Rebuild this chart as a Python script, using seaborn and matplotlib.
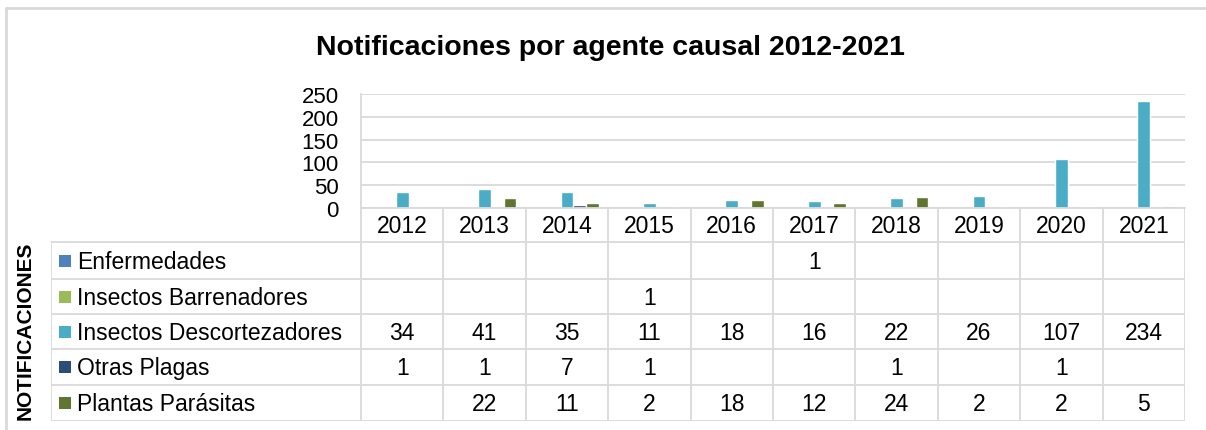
import pandas as pd
import numpy as np
import matplotlib
matplotlib.use("Agg")
import matplotlib.pyplot as plt
from matplotlib.lines import Line2D
from matplotlib.patches import Rectangle
import seaborn as sns

years = ["2012", "2013", "2014", "2015", "2016", "2017", "2018", "2019", "2020", "2021"]
agents = ["Enfermedades", "Insectos Barrenadores", "Insectos Descortezadores",
          "Otras Plagas", "Plantas Parásitas"]
enfermedades = [None, None, None, None, None, 1, None, None, None, None]
barrenadores = [None, None, None, 1, None, None, None, None, None, None]
descortezadores = [34, 41, 35, 11, 18, 16, 22, 26, 107, 234]
otras_plagas = [1, 1, 7, 1, None, None, 1, None, 1, None]
plantas_parasitas = [None, 22, 11, 2, 18, 12, 24, 2, 2, 5]
colors = ["#4F81BD", "#9BBB59", "#4BACC6", "#2C4D75", "#5F7530"]

series = [enfermedades, barrenadores, descortezadores, otras_plagas, plantas_parasitas]
rows = []
for agent, vals in zip(agents, series):
    for y, v in zip(years, vals):
        rows.append({"year": y, "agent": agent, "value": np.nan if v is None else v})
df = pd.DataFrame(rows)

sns.set_theme(style="white")
plt.rcParams["font.family"] = ["Liberation Sans", "DejaVu Sans"]
plt.rcParams["text.color"] = "black"

W, H = 1206, 431
fig = plt.figure(figsize=(W / 100, H / 100), dpi=100)
grid_c = "#D9D9D9"
fs = 16.5

# plot area in pixels
left, right, top, base = 361, 1185, 95, 209
ax = fig.add_axes([left / W, 1 - base / H, (right - left) / W, (base - top) / H])
sns.barplot(data=df, x="year", y="value", hue="agent", hue_order=agents, order=years,
            palette=colors, width=0.77, saturation=1, ax=ax, legend=False, errorbar=None)
ax.set_xlim(-0.5, 9.5)
ax.set_ylim(0, 250)
ax.set_yticks(range(0, 251, 50))
ax.yaxis.grid(True, color=grid_c, lw=1.3)
ax.set_axisbelow(True)
ax.tick_params(axis="y", length=0, pad=16, labelsize=16, labelcolor="black")
ax.set_xticks([])
ax.set_xlabel("")
ax.set_ylabel("")
for s in ["top", "right"]:
    ax.spines[s].set_visible(False)
for s in ["left", "bottom"]:
    ax.spines[s].set_color(grid_c)
    ax.spines[s].set_linewidth(1.3)

# data table
tleft, tbottom = 51, 422
cw = (right - left) / 10
xmin = -0.5 - (left - tleft) / cw
tax = fig.add_axes([tleft / W, 1 - tbottom / H, (right - tleft) / W, (tbottom - base) / H])
tax.set_xlim(xmin, 9.5)
tax.set_ylim(tbottom, base)
tax.axis("off")

def px(x):
    return -0.5 + (x - left) / cw

row_edges = [209, 243, 280, 315, 350, 386, 422]
kw = dict(color=grid_c, lw=1.3, solid_capstyle="projecting")
for i in range(11):
    x = i - 0.5
    tax.plot([x, x], [row_edges[0], row_edges[-1]], **kw)
for yy in row_edges[1:]:
    tax.plot([xmin, 9.5], [yy, yy], **kw)
tax.plot([xmin, xmin], [row_edges[1], row_edges[-1]], **kw)

for i, y in enumerate(years):
    tax.text(i, (row_edges[0] + row_edges[1]) / 2 + 1, y, ha="center", va="center", fontsize=fs)

for r, (agent, vals, col) in enumerate(zip(agents, series, colors)):
    yc = (row_edges[r + 1] + row_edges[r + 2]) / 2
    tax.add_patch(Rectangle((px(59), yc - 6), px(71) - px(59), 12, color=col, lw=0))
    tax.text(px(77), yc + 1, agent, ha="left", va="center", fontsize=fs)
    for i, v in enumerate(vals):
        if v is not None:
            tax.text(i, yc + 1, str(v), ha="center", va="center", fontsize=fs)

fig.text(25 / W, 1 - 331 / H, "NOTIFICACIONES", rotation=90, ha="center", va="center",
         fontsize=15, fontweight="bold")
fig.text(610 / W, 1 - 48 / H, "Notificaciones por agente causal 2012-2021",
         ha="center", va="center", fontsize=20.5, fontweight="bold")

# chart border
fig.add_artist(Line2D([6 / W, 6 / W], [1 - 9 / H, 0], color=grid_c, lw=2))
fig.add_artist(Line2D([6 / W, 1], [1 - 9 / H, 1 - 9 / H], color=grid_c, lw=2))

fig.savefig("out.png", dpi=100)
